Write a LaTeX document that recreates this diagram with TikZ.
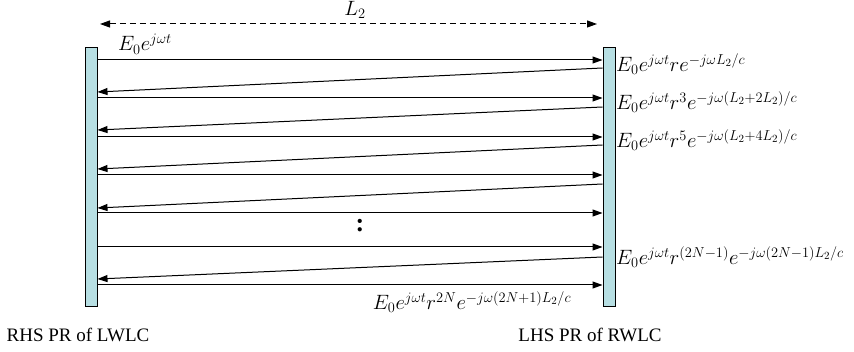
\documentclass[tikz,border=0pt]{standalone}
\usepackage{fontspec}
\setmainfont{Liberation Serif}
\usetikzlibrary{arrows.meta}
\definecolor{barcyan}{RGB}{183,223,227}
\tikzset{
  mirror/.style={draw, fill=barcyan, line width=1pt, minimum width=12pt, minimum height=259pt, inner sep=0pt},
  ray/.style={line width=1pt, -{Triangle[length=10pt,width=7pt]}},
  span/.style={line width=1pt, dash pattern=on 6pt off 4pt, {Triangle[length=10pt,width=7pt]}-{Triangle[length=10pt,width=7pt]}},
  fieldlabel/.style={inner sep=0pt, font=\fontsize{22}{24}\selectfont},
  caption/.style={inner sep=0pt, font=\fontsize{19}{22}\selectfont}
}
\begin{document}
\begin{tikzpicture}[x=1pt, y=-1pt]
    \useasboundingbox (0,0) rectangle (854,352);
    \node[mirror] (lbar) at (91,177.5) {};
    \node[mirror] (rbar) at (609,177.5) {};
    % forward rays
    \foreach \y [count=\i] in {60,98,137,175,213,247,285} {
        \coordinate (h\i) at (0,\y);
        \draw[ray] (lbar.east |- h\i) -- (rbar.west |- h\i);
    }
    % reflected rays
    \foreach \a/\b [count=\i] in {68/92,107/130,145/169,184/208,257/279} {
        \coordinate (sr\i) at (0,\a);
        \coordinate (sl\i) at (0,\b);
        \draw[ray] (rbar.west |- sr\i) -- (lbar.east |- sl\i);
    }
    \coordinate (dl) at (100,24);
    \coordinate (dr) at (597,24);
    \draw[span] (dl) -- (dr);
    \node[fieldlabel] (len) at (355,10) {$L_2$};
    \node[fieldlabel, font=\fontsize{26}{26}\bfseries] (dots) at (360,226) {:};
    \node[fieldlabel, anchor=west] (f0) at (118,44) {$E_0e^{j\omega t}$};
    \node[fieldlabel, anchor=west] (f1) at (616,64) {$E_0e^{j\omega t}re^{-j\omega L_2/c}$};
    \node[fieldlabel, anchor=west] (f3) at (616,102) {$E_0e^{j\omega t}r^3e^{-j\omega(L_2+2L_2)/c}$};
    \node[fieldlabel, anchor=west] (f5) at (616,140) {$E_0e^{j\omega t}r^5e^{-j\omega(L_2+4L_2)/c}$};
    \node[fieldlabel, anchor=west] (fn) at (616,257) {$E_0e^{j\omega t}r^{(2N-1)}e^{-j\omega(2N-1)L_2/c}$};
    \node[fieldlabel] (fe) at (472,302) {$E_0e^{j\omega t}r^{2N}e^{-j\omega(2N+1)L_2/c}$};
    \node[caption] (lcap) at (78,335) {RHS PR of LWLC};
    \node[caption] (rcap) at (590,335) {LHS PR of RWLC};
\end{tikzpicture}
\end{document}
